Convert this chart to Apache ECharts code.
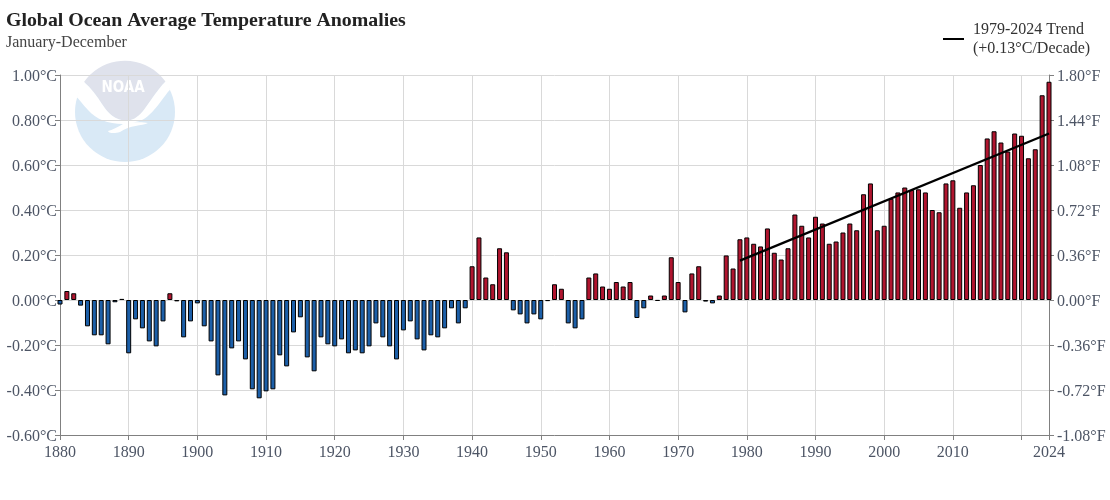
<!DOCTYPE html>
<html><head><meta charset="utf-8">
<style>html,body{margin:0;padding:0;background:#fff}#c{width:1110px;height:500px}</style>
<script src="https://cdn.jsdelivr.net/npm/echarts@6/dist/echarts.min.js"></script>
</head><body><div id="c"></div>
<script>
var firstYear = 1880;
var anomalies = [
-0.02,0.04,0.03,-0.025,-0.117,-0.157,-0.157,-0.197,-0.01,0.005,
-0.237,-0.086,-0.126,-0.184,-0.206,-0.095,0.03,-0.006,-0.166,-0.095,
-0.015,-0.117,-0.184,-0.335,-0.424,-0.215,-0.184,-0.264,-0.397,-0.437,
-0.406,-0.397,-0.246,-0.295,-0.144,-0.077,-0.255,-0.317,-0.166,-0.197,
-0.206,-0.175,-0.237,-0.224,-0.237,-0.206,-0.104,-0.166,-0.206,-0.264,
-0.135,-0.095,-0.175,-0.224,-0.157,-0.166,-0.126,-0.037,-0.104,-0.037,
0.15,0.278,0.10,0.07,0.23,0.212,-0.046,-0.064,-0.104,-0.064,
-0.086,-0.005,0.07,0.05,-0.104,-0.126,-0.086,0.10,0.118,0.06,
0.05,0.08,0.06,0.08,-0.08,-0.037,0.02,-0.004,0.02,0.19,
0.08,-0.055,0.118,0.15,-0.007,-0.015,0.02,0.198,0.14,0.27,
0.278,0.25,0.238,0.318,0.21,0.18,0.23,0.38,0.33,0.278,
0.37,0.34,0.25,0.26,0.30,0.34,0.31,0.47,0.518,0.31,
0.33,0.45,0.478,0.50,0.489,0.492,0.478,0.40,0.39,0.518,
0.532,0.41,0.478,0.51,0.60,0.718,0.75,0.70,0.66,0.74,
0.73,0.63,0.67,0.91,0.97];
var trendYears = [1979,2024];
var trendValues = [0.175,0.74];
var xTickValues = [1880,1890,1900,1910,1920,1930,1940,1950,1960,1970,1980,1990,2000,2010,2020,2024];
var xLabelValues = [1880,1890,1900,1910,1920,1930,1940,1950,1960,1970,1980,1990,2000,2010,2024];
var serif = '"Liberation Serif","Times New Roman",serif';
var tickColor = '#4d5565', axisColor = '#808080', gridColor = '#d9d9d9';
var RED = '#b0152f', BLUE = '#1c5fa8';
var trendName = '1979-2024 Trend\n(+0.13°C/Decade)';

echarts.graphic.registerShape('noaaCap', echarts.graphic.extendPath(
  'M84,82 A50,50 0 0 1 165.5,81.5 C157,90 150,102 143,111 C137,118 132,120.5 127,120.5 C115,120.5 108,113 102,104 C97,96 91,88 84,82 Z', {}));
echarts.graphic.registerShape('noaaWing', echarts.graphic.extendPath(
  'M76.7,97.3 C79,90 81,86 84,82 C91,88 97,96 102,104 C108,113 115,120.5 127,120.5 C132,120.5 137,118 143,111 C150,102 157,90 165.5,81.5 C167.5,84 169,87 170,89.7 C164,96 157,108 149,115 C144,120 138,122 132,122.5 C138,122 144,122 148,123 C142,126 130,125 120,132 C114,134 108,133 108,131 C112,130 118,127 123,124 C108,124 96,119 88,110 C83,105 80,100 76.7,97.3 Z', {}));

var chart = echarts.init(document.getElementById('c'), null, {renderer:'canvas'});
chart.setOption({
  animation:false,
  backgroundColor:'#fff',
  textStyle:{fontFamily:serif},
  title:[
    {text:'Global Ocean Average Temperature Anomalies',left:6,top:11,padding:0,
     textStyle:{fontFamily:serif,fontSize:19.85,fontWeight:'bold',color:'#222'}},
    {text:'January-December',left:6,top:35,padding:0,
     textStyle:{fontFamily:serif,fontSize:16,fontWeight:'normal',color:'#444'}}
  ],
  legend:{
    data:[{name:trendName,icon:'rect'}],
    left:943,top:20,padding:0,itemWidth:21,itemHeight:2,itemGap:0,
    selectedMode:false,
    textStyle:{fontFamily:serif,fontSize:16,color:'#333',lineHeight:19,padding:[0,0,0,4]}
  },
  grid:{left:60,right:61,top:75,bottom:65,containLabel:false},
  graphic:[{
    type:'group',z:-10,silent:true,
    children:[
      {type:'circle',z:-10,shape:{cx:125,cy:112,r:50},style:{fill:'#d9e9f6'}},
      {type:'noaaCap',z:-9,style:{fill:'#dfe2ec'}},
      {type:'noaaWing',z:-8,style:{fill:'#fff'}},
      {type:'text',z:-7,style:{text:'NOAA',x:123,y:88,align:'center',verticalAlign:'middle',fill:'#fff',font:'bold 15px "DejaVu Sans Condensed"'}}
    ]
  }],
  xAxis:{
    type:'value',min:1880,max:2024,
    axisLine:{onZero:false,show:true,lineStyle:{color:axisColor,width:1}},
    axisTick:{show:true,length:5,inside:false,lineStyle:{color:axisColor},customValues:xTickValues},
    axisLabel:{show:true,color:tickColor,fontSize:16,fontFamily:serif,margin:10,customValues:xLabelValues,
      formatter:function(v){return String(v);},hideOverlap:false},
    splitLine:{show:true,lineStyle:{color:gridColor,width:1}}
  },
  yAxis:[
    {type:'value',min:-0.6,max:1,interval:0.2,position:'left',
     axisLine:{show:true,onZero:false,lineStyle:{color:axisColor}},
     axisTick:{show:true,length:5,lineStyle:{color:axisColor}},
     axisLabel:{color:tickColor,fontSize:16,fontFamily:serif,margin:3,verticalAlign:'top',lineHeight:3,
       formatter:function(v){return v.toFixed(2)+'°C';}},
     splitLine:{show:true,lineStyle:{color:gridColor,width:1}}},
    {type:'value',min:-1.08,max:1.8,interval:0.36,position:'right',
     axisLine:{show:true,onZero:false,lineStyle:{color:axisColor}},
     axisTick:{show:true,length:5,lineStyle:{color:axisColor}},
     axisLabel:{color:tickColor,fontSize:16,fontFamily:serif,margin:8,verticalAlign:'top',lineHeight:3,
       formatter:function(v){return v.toFixed(2)+'°F';}},
     splitLine:{show:false}}
  ],
  series:[
    {type:'bar',name:'Anomaly',barWidth:5,clip:false,silent:true,
     data:anomalies.map(function(v,i){
       return {value:[firstYear+i,v],itemStyle:{color:v>=0?RED:BLUE,borderColor:'#000',borderWidth:1}};
     })},
    {type:'line',name:trendName,symbol:'none',silent:true,z:5,
     lineStyle:{color:'#000',width:2.3},itemStyle:{color:'#000'},
     data:trendYears.map(function(y,i){return [y,trendValues[i]];})}
  ]
});
</script></body></html>
